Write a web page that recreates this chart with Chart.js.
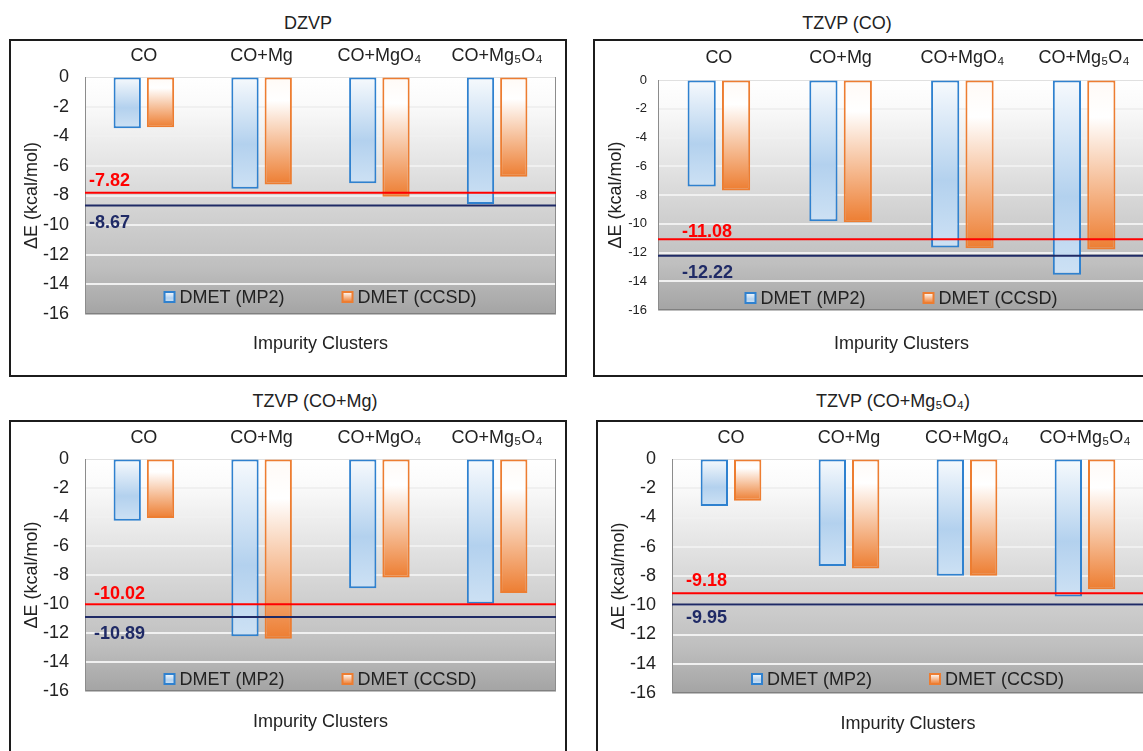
<!DOCTYPE html>
<html>
<head>
<meta charset="utf-8">
<script src="https://cdn.jsdelivr.net/npm/chart.js@4.4.1/dist/chart.umd.min.js"></script>
<style>
body{margin:0;background:#fff;width:1143px;height:751px;overflow:hidden;position:relative;font-family:'Liberation Sans',Arial,sans-serif;}
.ttl{position:absolute;font-size:18px;line-height:22px;color:#222;white-space:nowrap;transform:translateX(-50%);}
.box{position:absolute;border:2px solid #1c1c1c;}
canvas{display:block;}
</style>
</head>
<body>
<script>
// categories / series
const clusters = ['CO', 'CO+Mg', 'CO+MgO₄', 'CO+Mg₅O₄'];
const seriesNames = ['DMET (MP2)', 'DMET (CCSD)'];
const panelTitles = ['DZVP', 'TZVP (CO)', 'TZVP (CO+Mg)', 'TZVP (CO+Mg₅O₄)'];
const yTitle = 'ΔE (kcal/mol)';
const xTitle = 'Impurity Clusters';
const yMin = -16, yMax = 0, yStep = 2;

// values (kcal/mol)
const dzvpMP2 = [-3.46, -7.55, -7.17, -8.58];
const dzvpCCSD = [-3.39, -7.26, -8.09, -6.74];
const tzvpCoMP2 = [-7.40, -9.83, -11.65, -13.55];
const tzvpCoCCSD = [-7.68, -9.90, -11.70, -11.79];
const tzvpCoMgMP2 = [-4.26, -12.22, -8.92, -9.98];
const tzvpCoMgCCSD = [-4.07, -12.40, -8.17, -9.24];
const tzvpCoMg5O4MP2 = [-3.22, -7.31, -7.99, -9.40];
const tzvpCoMg5O4CCSD = [-2.86, -7.49, -7.99, -8.90];

// horizontal reference lines, one per panel
const refLineRed = [-7.82, -11.08, -10.02, -9.18];
const refLineNavy = [-8.67, -12.22, -10.89, -9.95];

const mp2Sets = [dzvpMP2, tzvpCoMP2, tzvpCoMgMP2, tzvpCoMg5O4MP2];
const ccsdSets = [dzvpCCSD, tzvpCoCCSD, tzvpCoMgCCSD, tzvpCoMg5O4CCSD];

// panel layout (pixels)
const layouts = [
  {left:9, top:39, w:554, h:334, yW:74, topH:36, botH:61, right:9, tick:18, tickPad:16, catPad:2, xtPad:20, tx:308, ty:23, lblDx:4, redDy:-12, navyDy:18, legDy:17},
  {left:593, top:39, w:558, h:334, yW:63, topH:39, botH:65, right:8, tick:13, tickPad:11, catPad:3, xtPad:20, tx:847, ty:23, lblDx:24, redDy:-7, navyDy:17, legDy:12},
  {left:9, top:420, w:554, h:334, yW:74, topH:37, botH:65, right:9, tick:18, tickPad:16, catPad:2, xtPad:23, tx:315, ty:401, lblDx:9, redDy:-10, navyDy:17, legDy:12},
  {left:596, top:420, w:556, h:334, yW:74, topH:37, botH:63, right:10, tick:18, tickPad:16, catPad:2, xtPad:21, tx:893, ty:401, lblDx:14, redDy:-12, navyDy:14, legDy:14}
];

const FONT = "'Liberation Sans', Arial, sans-serif";
Chart.defaults.font.family = FONT;
Chart.defaults.color = '#222';
Chart.defaults.animation = false;

const mp2Stops = [[0,'#f7fafd'],[0.6,'#b3d1ee'],[1,'#cde1f4']];
const ccsdStops = [[0,'#fffaf6'],[0.22,'#ffffff'],[0.65,'#f5b78c'],[1,'#ed7d31']];

function barFill(stops, fallback){
  return function(c){
    const ch = c.chart;
    if(!ch.chartArea || c.raw === undefined) return fallback;
    const y = ch.scales.y;
    const g = ch.ctx.createLinearGradient(0, y.getPixelForValue(0), 0, y.getPixelForValue(c.raw));
    stops.forEach(s => g.addColorStop(s[0], s[1]));
    return g;
  };
}

const plotBg = {
  id: 'plotBg',
  beforeDraw(chart){
    const {ctx, chartArea:a} = chart;
    const g = ctx.createLinearGradient(0, a.top, 0, a.bottom);
    g.addColorStop(0, '#ffffff');
    g.addColorStop(0.12, '#fafafa');
    g.addColorStop(0.5, '#d8d8d8');
    g.addColorStop(0.8, '#bfbfbf');
    g.addColorStop(1, '#a4a4a4');
    ctx.save();
    ctx.fillStyle = g;
    ctx.fillRect(a.left, a.top, a.right - a.left, a.bottom - a.top);
    ctx.restore();
  }
};

const overlay = {
  id: 'overlay',
  afterDatasetsDraw(chart, args, o){
    const {ctx, chartArea:a} = chart;
    const y = chart.scales.y;
    ctx.save();
    ctx.strokeStyle = '#8c8c8c'; ctx.lineWidth = 1;
    ctx.beginPath(); ctx.moveTo(a.right - 0.5, a.top); ctx.lineTo(a.right - 0.5, a.bottom); ctx.stroke();

    o.lines.forEach(L => {
      const py = y.getPixelForValue(L.value);
      ctx.strokeStyle = L.color; ctx.lineWidth = 2;
      ctx.beginPath(); ctx.moveTo(a.left, py); ctx.lineTo(a.right, py); ctx.stroke();
      ctx.fillStyle = L.color;
      ctx.font = 'bold 18px ' + FONT;
      ctx.textBaseline = 'middle'; ctx.textAlign = 'left';
      ctx.fillText(L.value.toFixed(2), a.left + o.labelDx, py + L.dy);
    });

    // legend inside plot area
    ctx.font = '18px ' + FONT;
    const sq = 10, gap = 5, itemGap = 58;
    const items = chart.data.datasets.map(d => ({text: d.label, w: ctx.measureText(d.label).width, d}));
    const total = items.reduce((s, it) => s + sq + gap + it.w, 0) + itemGap * (items.length - 1);
    let x = (a.left + a.right) / 2 - total / 2;
    const ly = a.bottom - o.legendDy;
    items.forEach(it => {
      const g = ctx.createLinearGradient(0, ly - sq/2, 0, ly + sq/2);
      it.d.swatch.forEach(s => g.addColorStop(s[0], s[1]));
      ctx.fillStyle = g;
      ctx.fillRect(x, ly - sq/2, sq, sq);
      ctx.strokeStyle = it.d.borderColor; ctx.lineWidth = 2;
      ctx.strokeRect(x, ly - sq/2, sq, sq);
      ctx.fillStyle = '#222'; ctx.textBaseline = 'middle'; ctx.textAlign = 'left';
      ctx.fillText(it.text, x + sq + gap, ly + 1);
      x += sq + gap + it.w + itemGap;
    });
    ctx.restore();
  }
};

layouts.forEach((L, i) => {
  const t = document.createElement('div');
  t.className = 'ttl';
  t.style.left = L.tx + 'px';
  t.style.top = (L.ty - 11) + 'px';
  t.textContent = panelTitles[i];
  document.body.appendChild(t);

  const box = document.createElement('div');
  box.className = 'box';
  box.style.left = L.left + 'px';
  box.style.top = L.top + 'px';
  box.style.width = L.w + 'px';
  box.style.height = L.h + 'px';
  const cv = document.createElement('canvas');
  cv.width = L.w; cv.height = L.h;
  box.appendChild(cv);
  document.body.appendChild(box);

  new Chart(cv.getContext('2d'), {
    type: 'bar',
    data: {
      labels: clusters,
      datasets: [
        {label: seriesNames[0], data: mp2Sets[i], xAxisID: 'x',
         backgroundColor: barFill(mp2Stops, '#b3d1ee'), borderColor: '#2f81cf', borderWidth: 2,
         borderSkipped: false, swatch: mp2Stops},
        {label: seriesNames[1], data: ccsdSets[i], xAxisID: 'x',
         backgroundColor: barFill(ccsdStops, '#ed7d31'), borderColor: '#ed7d31', borderWidth: 2,
         borderSkipped: false, swatch: [[0,'#ffffff'],[1,'#ed7d31']]}
      ]
    },
    options: {
      responsive: false,
      animation: false,
      layout: {padding: {left: 0, right: L.right, top: 0, bottom: 0}},
      datasets: {bar: {categoryPercentage: 0.565, barPercentage: 0.82}},
      scales: {
        x: {
          position: 'top',
          grid: {display: false},
          border: {display: false},
          ticks: {font: {size: 18}, color: '#222', padding: L.catPad, maxRotation: 0, autoSkip: false},
          afterFit: s => { s.height = L.topH; }
        },
        x2: {
          type: 'category',
          position: 'bottom',
          grid: {display: false},
          border: {display: false},
          ticks: {display: false},
          title: {display: true, text: xTitle, font: {size: 18}, color: '#222', padding: {top: 0, bottom: L.xtPad}},
          afterFit: s => { s.height = L.botH; }
        },
        y: {
          min: yMin, max: yMax,
          ticks: {stepSize: yStep, font: {size: L.tick}, color: '#222', padding: L.tickPad},
          grid: {
            drawTicks: false,
            color: c => c.tick.value === yMax ? '#e0e0e0' : (c.tick.value === yMin ? '#808080' : '#f0f0f0'),
            lineWidth: c => c.tick.value === yMax ? 1 : (c.tick.value === yMin ? 1.5 : 2)
          },
          border: {display: true, color: '#8c8c8c', width: 1},
          title: {display: true, text: yTitle, font: {size: 18}, color: '#222', padding: {top: 10, bottom: 0}},
          afterFit: s => { s.width = L.yW; }
        }
      },
      plugins: {
        legend: {display: false},
        tooltip: {enabled: false},
        overlay: {
          labelDx: L.lblDx,
          legendDy: L.legDy,
          lines: [
            {value: refLineRed[i], color: '#ff0000', dy: L.redDy},
            {value: refLineNavy[i], color: '#1f2a66', dy: L.navyDy}
          ]
        }
      }
    },
    plugins: [plotBg, overlay]
  });
});
</script>
</body>
</html>
